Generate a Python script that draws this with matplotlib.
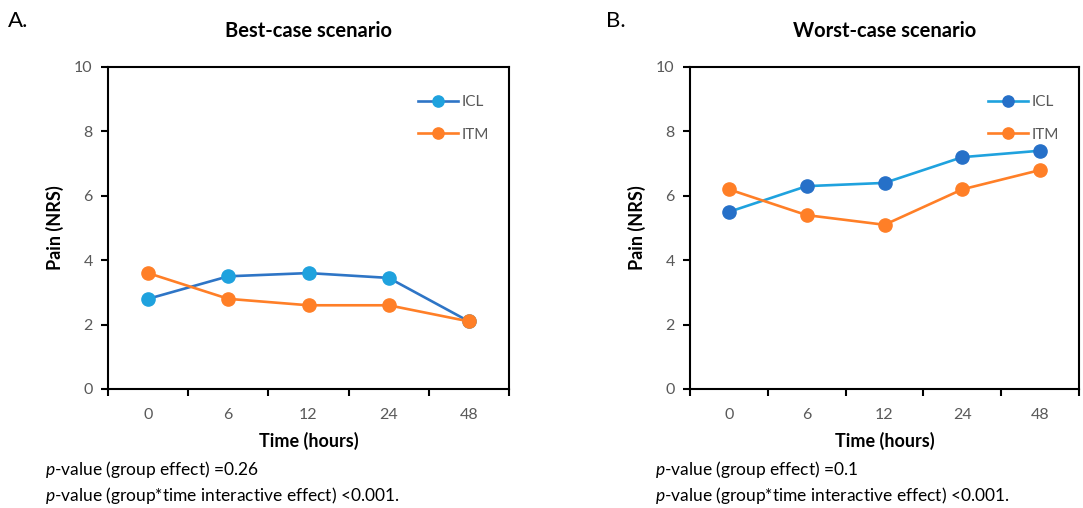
import matplotlib
matplotlib.use("Agg")
import matplotlib.pyplot as plt

plt.rcParams["font.family"] = ["Lato", "DejaVu Sans"]
plt.rcParams["mathtext.fontset"] = "custom"
plt.rcParams["mathtext.it"] = "Lato:italic"

times = ["0", "6", "12", "24", "48"]
best_icl = [2.8, 3.5, 3.6, 3.45, 2.1]
best_itm = [3.6, 2.8, 2.6, 2.6, 2.1]
worst_icl = [5.5, 6.3, 6.4, 7.2, 7.4]
worst_itm = [6.2, 5.4, 5.1, 6.2, 6.8]
y_ticks = [0, 2, 4, 6, 8, 10]

ORANGE = "#FF7F27"
GRAY = "#595959"

fig = plt.figure(figsize=(10.83, 5.08), dpi=100)
W, H = 1083, 508


def panel(left, right, icl, itm, icl_line, icl_mark, title, letter, letter_x, pvals, ptext_x):
    ax = fig.add_axes([left / W, 1 - 389 / H, (right - left) / W, (389 - 67) / H])
    x = list(range(len(times)))
    ax.plot(x, icl, color=icl_line, lw=1.9, marker="o", ms=9.5,
            mfc=icl_mark, mec=icl_mark, label="ICL", zorder=3)
    ax.plot(x, itm, color=ORANGE, lw=1.9, marker="o", ms=9.5,
            mfc=ORANGE, mec=ORANGE, label="ITM", zorder=3)
    ax.set_xlim(-0.5, len(times) - 0.5)
    ax.set_ylim(0, 10)
    ax.set_yticks(y_ticks)
    ax.set_xticks([i - 0.5 for i in range(len(times) + 1)])
    ax.set_xticklabels([])
    ax.set_xticks(x, minor=True)
    ax.set_xticklabels(times, minor=True)
    ax.tick_params(axis="x", which="minor", length=0, pad=14, labelsize=11.5, labelcolor=GRAY)
    ax.tick_params(axis="x", which="major", length=5, width=1.5, direction="out")
    ax.tick_params(axis="y", length=5, width=1.5, direction="out", labelsize=11.5,
                   labelcolor=GRAY, pad=6)
    for s in ax.spines.values():
        s.set_linewidth(1.5)
        s.set_color("black")
    ax.set_ylabel("Pain (NRS)", fontsize=13, fontweight="bold", labelpad=7)
    ax.set_xlabel("Time (hours)", fontsize=13, fontweight="bold", labelpad=7)
    leg = ax.legend(loc="upper right", bbox_to_anchor=(0.985, 0.955), frameon=False,
                    fontsize=11, handlelength=2.6, labelspacing=1.2, handletextpad=0.25,
                    markerscale=0.85)
    for t in leg.get_texts():
        t.set_color(GRAY)
    fig.text((left + right) / 2 / W, 1 - 31 / H, title, ha="center", va="center",
             fontsize=14.5, fontweight="bold")
    fig.text(letter_x / W, 1 - 21 / H, letter, ha="left", va="center", fontsize=16)
    fig.text(ptext_x / W, 1 - 470 / H, "$\\it{p}$-value (group effect) =" + pvals[0],
             ha="left", va="center", fontsize=12.5)
    fig.text(ptext_x / W, 1 - 495 / H,
             "$\\it{p}$-value (group*time interactive effect) " + pvals[1],
             ha="left", va="center", fontsize=12.5)
    return ax


panel(108, 509, best_icl, best_itm, "#2E75C6", "#1FA2DE", "Best-case scenario",
      "A.", 8, ["0.26", "<0.001."], 45)
panel(690, 1079, worst_icl, worst_itm, "#1FA2DE", "#2670C8", "Worst-case scenario",
      "B.", 606, ["0.1", "<0.001."], 655)

fig.savefig("out.png", dpi=100)
